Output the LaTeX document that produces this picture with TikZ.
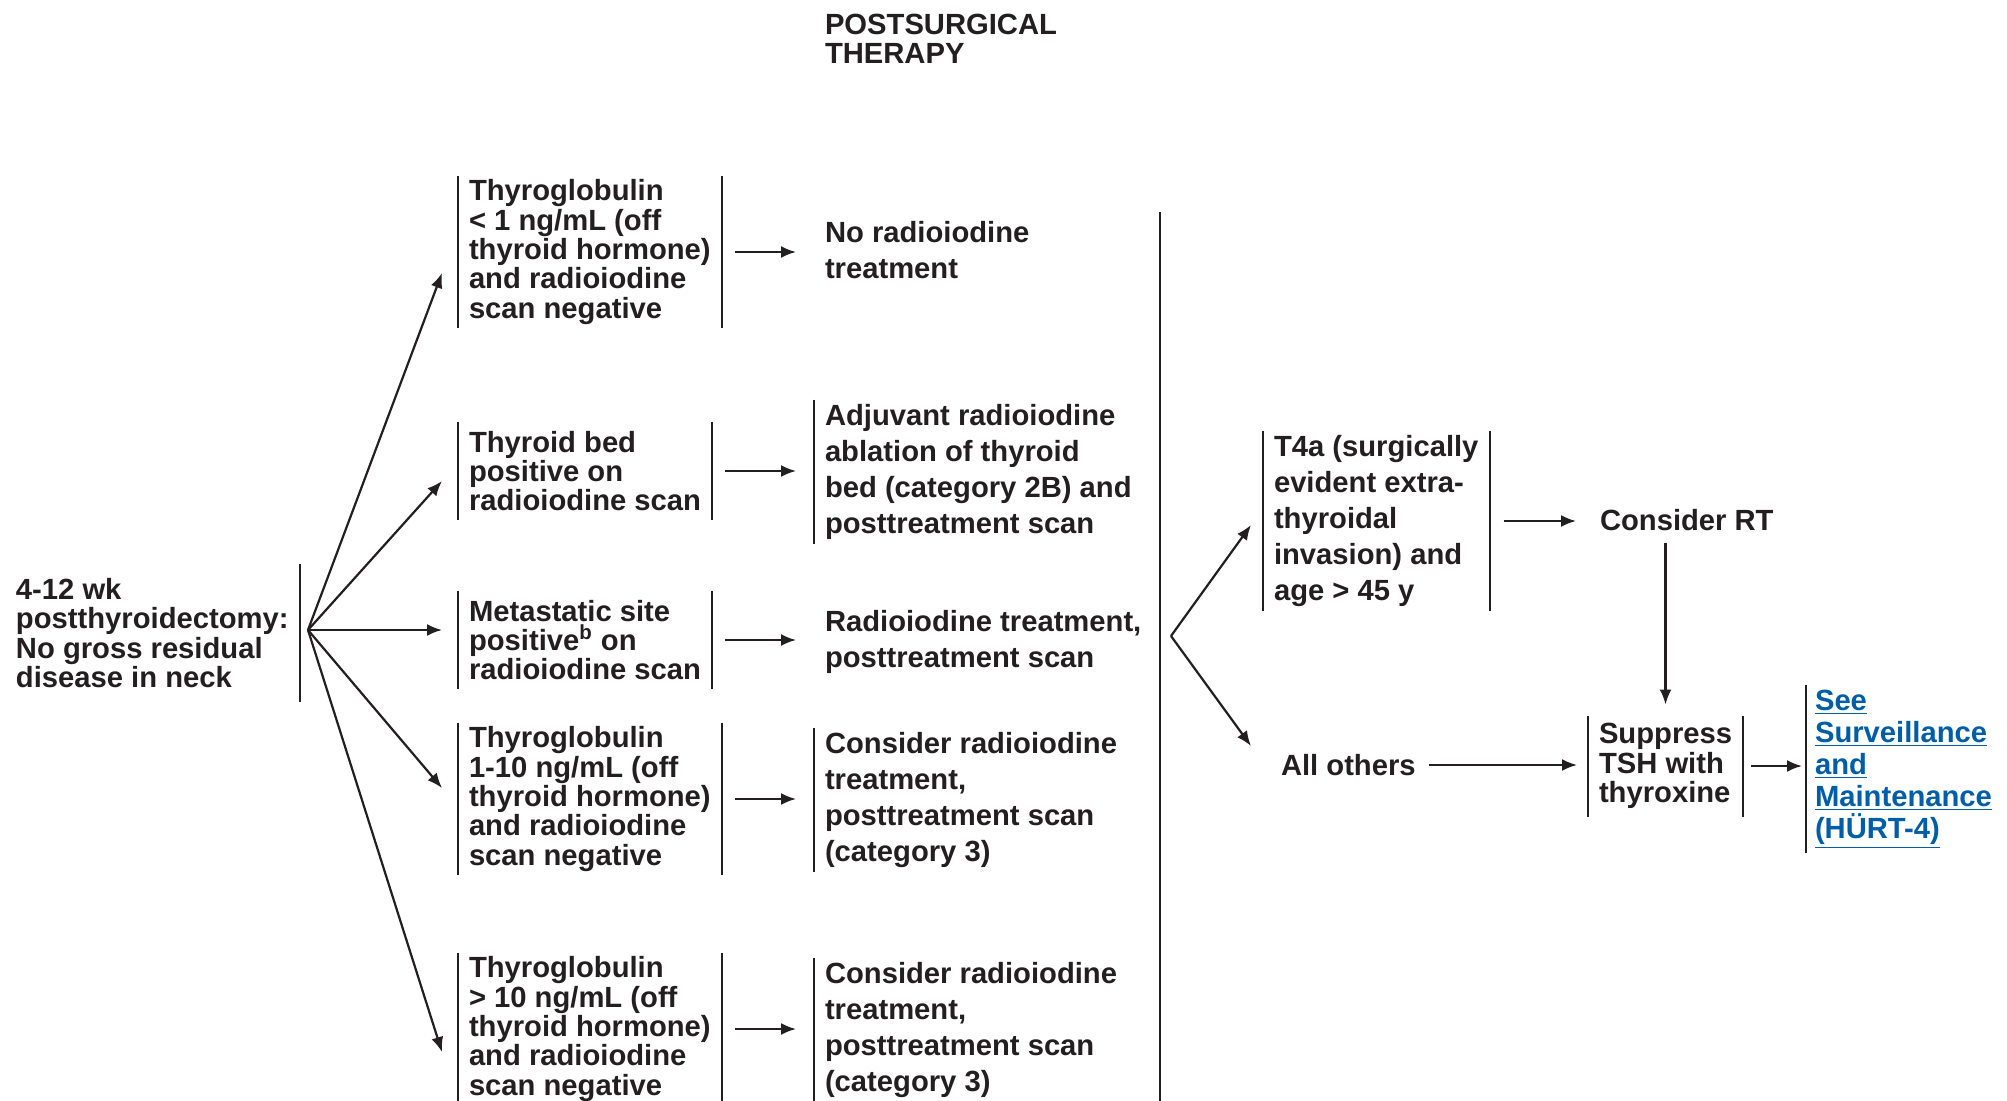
\documentclass[tikz,border=0pt]{standalone}
\usepackage{fontspec}
\setmainfont{Liberation Sans}
\usepackage{xcolor}
\usepackage{tikz}
\usetikzlibrary{arrows.meta,positioning,calc}
\definecolor{nccnink}{RGB}{35,31,32}
\definecolor{nccnblue}{RGB}{0,94,168}

\begin{document}
\begin{tikzpicture}[
        x=0.5pt, y=-0.5pt,
        line width=1pt, color=nccnink,
        every node/.style={font=\fontsize{14.6}{14.7}\selectfont\bfseries, align=left, inner xsep=5pt, inner ysep=2pt, text=nccnink},
        cond/.style={anchor=west},
        treat/.style={anchor=west, font=\fontsize{14.6}{17.9}\selectfont\bfseries},
        link/.style={anchor=west, font=\fontsize{14.6}{16}\selectfont\bfseries, text=nccnblue, inner xsep=4pt},
        arr/.style={-{Latex[length=7.5pt,width=6pt]}, line width=1.1pt}
    ]
        \useasboundingbox (0,0) rectangle (2007,1101);

        \node[anchor=north west, inner sep=0pt] (title) at (824,13) {POSTSURGICAL\\THERAPY};

        % initial situation
        \node[cond, inner ysep=6.5pt] (start) at (5,633) {4-12 wk\\postthyroidectomy:\\No gross residual\\disease in neck};
        \coordinate (fan) at (308,630);

        % findings
        \node[cond, inner ysep=1.5pt] (tglow) at (458,252) {Thyroglobulin\\< 1 ng/mL (off\\thyroid hormone)\\and radioiodine\\scan negative};
        \node[cond, minimum height=48pt] (bed) at (458,471) {Thyroid bed\\positive on\\radioiodine scan};
        \node[cond, minimum height=48pt] (meta) at (458,640) {Metastatic site\\positive\textsuperscript{b} on\\radioiodine scan};
        \node[cond, inner ysep=1.5pt] (tgmid) at (458,799) {Thyroglobulin\\1-10 ng/mL (off\\thyroid hormone)\\and radioiodine\\scan negative};
        \node[cond, inner ysep=1.5pt] (tghigh) at (458,1029) {Thyroglobulin\\> 10 ng/mL (off\\thyroid hormone)\\and radioiodine\\scan negative};

        % treatments
        \node[treat] (notreat) at (814,250) {No radioiodine\\treatment};
        \node[treat] (adjuv) at (814,472) {Adjuvant radioiodine\\ablation of thyroid\\bed (category 2B) and\\posttreatment scan};
        \node[treat] (rai) at (814,642) {Radioiodine treatment,\\posttreatment scan};
        \node[treat] (conmid) at (814,800) {Consider radioiodine\\treatment,\\posttreatment scan\\(category 3)};
        \node[treat] (conhigh) at (814,1030) {Consider radioiodine\\treatment,\\posttreatment scan\\(category 3)};

        \coordinate (bartop) at (1160,212);
        \coordinate (barbot) at (1160,1101);
        \coordinate (split) at (1171,636);

        % after radioiodine
        \node[treat] (t4a) at (1263,521) {T4a (surgically\\evident extra-\\thyroidal\\invasion) and\\age > 45 y};
        \node[cond] (rt) at (1589,520) {Consider RT};
        \node[cond] (others) at (1270,765) {All others};
        \node[cond, minimum height=49.5pt] (supp) at (1588,766) {Suppress\\TSH with\\thyroxine};
        \node[link, minimum height=83pt] (surv) at (1806,769) {\underline{See}\\\underline{Surveillance}\\\underline{and}\\\underline{Maintenance}\\\underline{(HÜRT-4)}};

        % bars
        \draw (start.north east) -- (start.south east);
        \foreach \n in {tglow,bed,meta,tgmid,tghigh,t4a,supp}
            \draw (\n.north west) -- (\n.south west) (\n.north east) -- (\n.south east);
        \foreach \n in {adjuv,conmid,conhigh,surv}
            \draw (\n.north west) -- (\n.south west);
        \draw (bartop) -- (barbot);

        % arrows
        \foreach \n/\dy in {tglow/21,bed/10,meta/-10,tgmid/-11,tghigh/23}
            \draw[arr] (fan) -- ($(\n.west)+(-16,\dy)$);
        \foreach \a/\b in {tglow/notreat,bed/adjuv,meta/rai,tgmid/conmid,tghigh/conhigh}
            \draw[arr, shorten <=6.5pt, shorten >=9pt] (\a.east) -- (\a.east -| \b.west);
        \draw[arr] (split) -- ($(t4a.west)+(-12,4)$);
        \draw[arr] (split) -- ($(others.west)+(-19,-19)$);
        \draw[arr, shorten <=7pt, shorten >=6.5pt] (t4a.east) -- (t4a.east -| rt.west);
        \draw[arr, shorten <=3.5pt, shorten >=5.5pt] (rt.south -| supp.north) -- (supp.north);
        \draw[arr, shorten <=1pt, shorten >=5.5pt] (others.east) -- (others.east -| supp.west);
        \draw[arr, shorten <=4pt, shorten >=2pt] (supp.east) -- (supp.east -| surv.west);
    \end{tikzpicture}
\end{document}
